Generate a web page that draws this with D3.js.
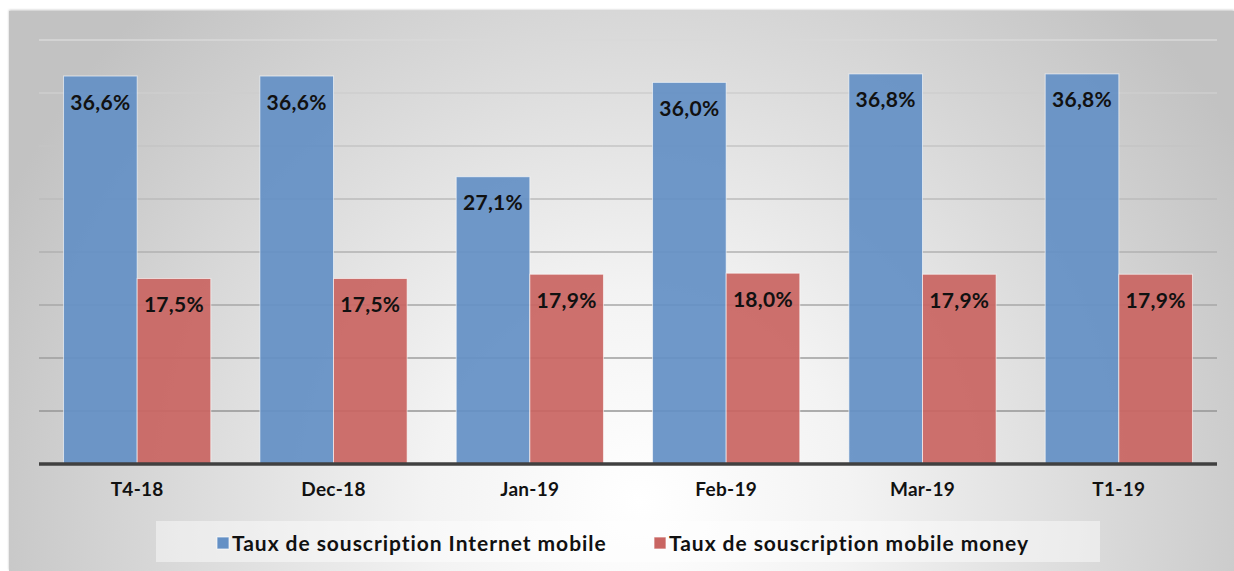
<!DOCTYPE html>
<html><head><meta charset="utf-8">
<script src="https://cdn.jsdelivr.net/npm/d3@7"></script>
<style>html,body{margin:0;padding:0;background:#fff;}svg{display:block;}</style>
</head><body>
<script>
const categories = ["T4-18","Dec-18","Jan-19","Feb-19","Mar-19","T1-19"];
const seriesNames = ["Taux de souscription Internet mobile","Taux de souscription mobile money"];
const internetMobile = [36.6, 36.6, 27.1, 36.0, 36.8, 36.8];
const mobileMoney = [17.5, 17.5, 17.9, 18.0, 17.9, 17.9];
const yTicks = [0,5,10,15,20,25,30,35,40];
const colors = ["#6490c5","#c96562"];

const W=1234,H=571;
const svg=d3.select("body").append("svg").attr("width",W).attr("height",H);
const defs=svg.append("defs");
const rg=defs.append("radialGradient").attr("id","bg").attr("gradientUnits","userSpaceOnUse")
  .attr("cx",640).attr("cy",500).attr("r",700).attr("fx",640).attr("fy",500);
rg.append("stop").attr("offset","0%").attr("stop-color","#ffffff");
rg.append("stop").attr("offset","30%").attr("stop-color","#f3f3f3");
rg.append("stop").attr("offset","100%").attr("stop-color","#c2c2c2");
const sh=defs.append("filter").attr("id","sh").attr("x","-5%").attr("y","-5%").attr("width","110%").attr("height","110%");
sh.append("feDropShadow").attr("dx",0).attr("dy",-1).attr("stdDeviation",1).attr("flood-color","#888").attr("flood-opacity",0.5);

svg.append("rect").attr("x",9).attr("y",11).attr("width",W-9).attr("height",H-11).attr("fill","url(#bg)").attr("filter","url(#sh)");

const x0=d3.scaleBand().domain(categories).range([39,1217]).paddingInner(0.25).paddingOuter(0.125);
const x1=d3.scaleBand().domain([0,1]).range([0,x0.bandwidth()]);
const y=d3.scaleLinear().domain([0,40]).range([464,40]);
const gridColor=d3.scaleLinear().domain([40,0]).range(["#d8d8d8","#8a8a8a"]);

const font="'Century Gothic','Lato','DejaVu Sans',sans-serif";

// gridlines
svg.append("g").selectAll("line").data(yTicks.filter(d=>d>0)).join("line")
  .attr("x1",39).attr("x2",1217).attr("y1",d=>y(d)).attr("y2",d=>y(d))
  .attr("stroke",d=>gridColor(d)).attr("stroke-width",1.3);

const series=[internetMobile,mobileMoney];
series.forEach((vals,si)=>{
  svg.append("g").selectAll("rect").data(vals).join("rect")
    .attr("x",(d,i)=>x0(categories[i])+x1(si))
    .attr("y",d=>y(d)).attr("width",x1.bandwidth()).attr("height",d=>y(0)-y(d))
    .attr("fill",colors[si]).attr("fill-opacity",0.93)
    .attr("stroke","rgba(255,255,255,0.6)").attr("stroke-width",1);
});

series.forEach((vals,si)=>{
  svg.append("g").selectAll("text").data(vals).join("text")
    .attr("x",(d,i)=>x0(categories[i])+x1(si)+x1.bandwidth()/2)
    .attr("y",d=>y(d)+33.5)
    .attr("text-anchor","middle").attr("font-family",font).attr("font-weight","bold")
    .attr("font-size",21).attr("letter-spacing",0.3).attr("fill","#111")
    .text(d=>d.toFixed(1).replace(".",",")+"%");
});

// bottom axis
const xAxis=svg.append("g").attr("transform","translate(0,464)").call(d3.axisBottom(x0).tickSize(0).tickPadding(19));
xAxis.select(".domain").attr("stroke","#404040").attr("stroke-width",3.5).attr("d","M39,0H1217");
xAxis.selectAll("text").attr("font-family",font).attr("font-weight","bold").attr("font-size",19).attr("letter-spacing",0.3).attr("fill","#111");

// legend
svg.append("rect").attr("x",156).attr("y",521).attr("width",944).attr("height",41).attr("fill","rgba(255,255,255,0.45)");
const legX=[217,654];
seriesNames.forEach((n,i)=>{
  svg.append("rect").attr("x",legX[i]).attr("y",537).attr("width",12).attr("height",12).attr("fill",colors[i]).attr("stroke","rgba(255,255,255,0.7)");
  svg.append("text").attr("x",legX[i]+15).attr("y",550.5).attr("font-family",font).attr("font-weight","bold")
    .attr("font-size",21).attr("letter-spacing",0.95).attr("fill","#111").text(n);
});
</script>
</body></html>
